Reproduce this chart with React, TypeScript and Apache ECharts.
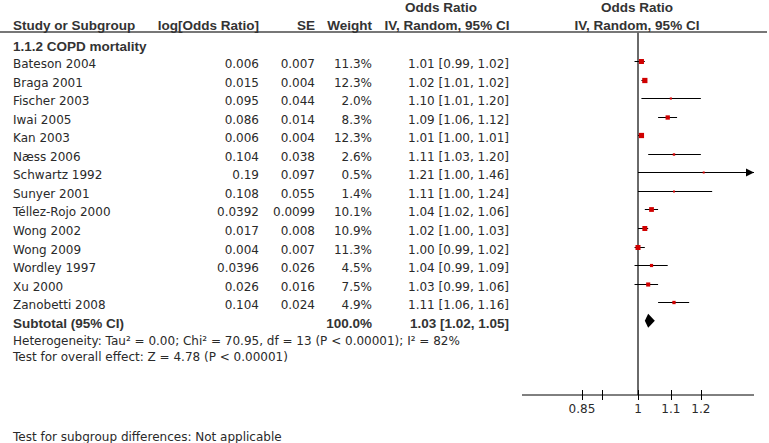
import React, { useEffect, useRef } from "react";
import * as echarts from "echarts";

const studies = [
  "Bateson 2004", "Braga 2001", "Fischer 2003", "Iwai 2005", "Kan 2003", "Næss 2006",
  "Schwartz 1992", "Sunyer 2001", "Téllez-Rojo 2000", "Wong 2002", "Wong 2009",
  "Wordley 1997", "Xu 2000", "Zanobetti 2008",
];
const logOddsRatio = ["0.006", "0.015", "0.095", "0.086", "0.006", "0.104", "0.19", "0.108", "0.0392", "0.017", "0.004", "0.0396", "0.026", "0.104"];
const stdErr = ["0.007", "0.004", "0.044", "0.014", "0.004", "0.038", "0.097", "0.055", "0.0099", "0.008", "0.007", "0.026", "0.016", "0.024"];
const weights = [11.3, 12.3, 2.0, 8.3, 12.3, 2.6, 0.5, 1.4, 10.1, 10.9, 11.3, 4.5, 7.5, 4.9];
const orEst = [1.01, 1.02, 1.10, 1.09, 1.01, 1.11, 1.21, 1.11, 1.04, 1.02, 1.00, 1.04, 1.03, 1.11];
const orLow = [0.99, 1.01, 1.01, 1.06, 1.00, 1.03, 1.00, 1.00, 1.02, 1.00, 0.99, 0.99, 0.99, 1.06];
const orHigh = [1.02, 1.02, 1.20, 1.12, 1.01, 1.20, 1.46, 1.24, 1.06, 1.03, 1.02, 1.09, 1.06, 1.16];

const subtotalLabel = "Subtotal (95% CI)";
const subtotalWeight = 100.0;
const subtotalOR = [1.03, 1.02, 1.05];

const tickValues = [0.85, 0.9, 1, 1.1, 1.2];
const tickLabels = ["0.85", "", "1", "1.1", "1.2"];
const axisMinOR = 1 / 1.4;
const axisMaxOR = 1.4;

const ROW_MIN = -1.563;
const ROW_MAX = 18.005;

const REG = "DejaVu Sans";
const BOLD = "Liberation Sans";
const TXT = "#2a2a2a";
const HDR = "#333";

const fmtOR = (e: number, l: number, h: number) => `${e.toFixed(2)} [${l.toFixed(2)}, ${h.toFixed(2)}]`;

function txt(text: string, x: number, y: number, align: string, bold: boolean) {
  return {
    type: "text",
    style: {
      text, x, y,
      align, textAlign: align,
      verticalAlign: "middle", textVerticalAlign: "middle",
      fill: bold ? HDR : TXT,
      fontFamily: bold ? BOLD : REG,
      fontSize: bold ? 13.5 : 12,
      fontWeight: bold ? "bold" : "normal",
    },
  };
}

export default function App() {
  const ref = useRef<HTMLDivElement>(null);
  useEffect(() => {
    if (!ref.current) return;
    const chart = echarts.init(ref.current, null, { renderer: "svg" });
    const lnMin = Math.log(axisMinOR);
    const lnMax = Math.log(axisMaxOR);
    const TEXT_DY = 3;

    const rows = studies.map((s, i) => [i, orEst[i], orLow[i], orHigh[i], weights[i]]);

    const option: any = {
      animation: false,
      grid: { left: 522, width: 232, top: 32, height: 363 },
      xAxis: { type: "value", min: lnMin, max: lnMax, show: false },
      yAxis: { type: "value", inverse: true, min: ROW_MIN, max: ROW_MAX, show: false },
      graphic: [
        { type: "line", shape: { x1: 0, y1: 32, x2: 767, y2: 32 }, style: { stroke: "#4a4a4a", lineWidth: 1.5 } },
        txt("Study or Subgroup", 13, 25, "left", true),
        txt("log[Odds Ratio]", 259, 25, "right", true),
        txt("SE", 315, 25, "right", true),
        txt("Weight", 372, 25, "right", true),
        txt("Odds Ratio", 441, 7, "center", true),
        txt("IV, Random, 95% CI", 447, 25, "center", true),
        txt("Odds Ratio", 637, 7, "center", true),
        txt("IV, Random, 95% CI", 637, 25, "center", true),
        txt("1.1.2 COPD mortality", 13, 46, "left", true),
        txt("Heterogeneity: Tau\u00b2 = 0.00; Chi\u00b2 = 70.95, df = 13 (P < 0.00001); I\u00b2 = 82%", 13, 341, "left", false),
        txt("Test for overall effect: Z = 4.78 (P < 0.00001)", 13, 357, "left", false),
        txt("Test for subgroup differences: Not applicable", 13, 437, "left", false),
      ],
      series: [
        {
          type: "custom",
          name: "axis",
          data: [[0]],
          silent: true,
          renderItem: (params: any, api: any) => {
            const top = api.coord([0, ROW_MIN]);
            const bot = api.coord([0, ROW_MAX]);
            const a0 = api.coord([lnMin, ROW_MAX]);
            const a1 = api.coord([lnMax, ROW_MAX]);
            const children: any[] = [
              { type: "line", shape: { x1: top[0], y1: top[1], x2: bot[0], y2: bot[1] }, style: { stroke: "#6a6a6a", lineWidth: 2 } },
              { type: "line", shape: { x1: a0[0], y1: a0[1], x2: a1[0], y2: a1[1] }, style: { stroke: "#000", lineWidth: 1 } },
            ];
            tickValues.forEach((t, k) => {
              const p = api.coord([Math.log(t), ROW_MAX]);
              const x = Math.round(p[0]) + 0.5;
              children.push({ type: "line", shape: { x1: x, y1: p[1] - 5, x2: x, y2: p[1] + 5 }, style: { stroke: "#000", lineWidth: 1 } });
              if (tickLabels[k]) children.push(txt(tickLabels[k], p[0], p[1] + 14, "center", false));
            });
            return { type: "group", children };
          },
        },
        {
          type: "custom",
          name: "table",
          data: rows,
          silent: true,
          renderItem: (params: any, api: any) => {
            const i = params.dataIndex;
            const y = api.coord([0, i])[1] + TEXT_DY;
            return {
              type: "group",
              children: [
                txt(studies[i], 13, y, "left", false),
                txt(logOddsRatio[i], 259, y, "right", false),
                txt(stdErr[i], 315, y, "right", false),
                txt(weights[i].toFixed(1) + "%", 372, y, "right", false),
                txt(fmtOR(orEst[i], orLow[i], orHigh[i]), 509, y, "right", false),
              ],
            };
          },
        },
        {
          type: "custom",
          name: "forest",
          data: rows,
          silent: true,
          clip: false,
          renderItem: (params: any, api: any) => {
            const i = api.value(0);
            const est = api.value(1), lo = api.value(2), hi = api.value(3), w = api.value(4);
            const pLo = api.coord([Math.max(Math.log(lo), lnMin), i]);
            const pHi = api.coord([Math.min(Math.log(hi), lnMax), i]);
            const pE = api.coord([Math.log(est), i]);
            const yy = Math.round(pE[1]) + 0.5;
            const s = Math.max(2, 1.5 * Math.sqrt(w));
            const children: any[] = [
              { type: "line", shape: { x1: pLo[0], y1: yy, x2: pHi[0], y2: yy }, style: { stroke: "#000", lineWidth: 1 } },
              { type: "rect", shape: { x: pE[0] - s / 2, y: yy - s / 2, width: s, height: s }, style: { fill: "#d00000" } },
            ];
            if (hi > axisMaxOR) {
              children.push({ type: "polygon", shape: { points: [[pHi[0], yy], [pHi[0] - 8, yy - 4], [pHi[0] - 8, yy + 4]] }, style: { fill: "#000" } });
            }
            if (lo < axisMinOR) {
              children.push({ type: "polygon", shape: { points: [[pLo[0], yy], [pLo[0] + 8, yy - 4], [pLo[0] + 8, yy + 4]] }, style: { fill: "#000" } });
            }
            return { type: "group", children };
          },
        },
        {
          type: "custom",
          name: "subtotal",
          data: [[studies.length, subtotalOR[0], subtotalOR[1], subtotalOR[2], subtotalWeight]],
          silent: true,
          clip: false,
          renderItem: (params: any, api: any) => {
            const i = api.value(0);
            const pE = api.coord([Math.log(api.value(1)), i]);
            const pLo = api.coord([Math.log(api.value(2)), i]);
            const pHi = api.coord([Math.log(api.value(3)), i]);
            const h = 7;
            const y = pE[1] + TEXT_DY;
            return {
              type: "group",
              children: [
                { type: "polygon", shape: { points: [[pLo[0], pE[1]], [pE[0], pE[1] - h], [pHi[0], pE[1]], [pE[0], pE[1] + h]] }, style: { fill: "#000" } },
                txt(subtotalLabel, 13, y, "left", true),
                txt(api.value(4).toFixed(1) + "%", 372, y, "right", true),
                txt(fmtOR(api.value(1), api.value(2), api.value(3)), 509, y, "right", true),
              ],
            };
          },
        },
      ],
    };
    chart.setOption(option);
    return () => chart.dispose();
  }, []);
  return (
    <div
      ref={ref}
      style={{ position: "absolute", left: 0, top: 0, width: 769, height: 443, background: "#fff" }}
    />
  );
}
